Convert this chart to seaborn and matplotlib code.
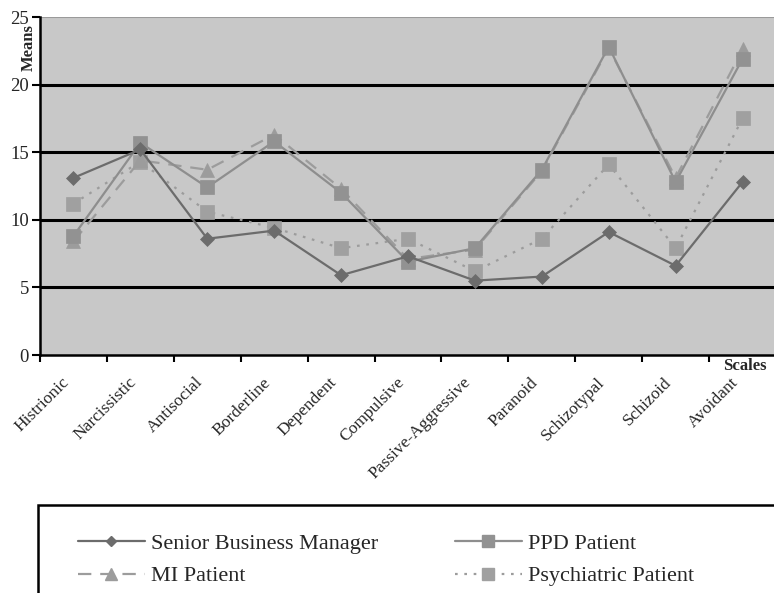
import numpy as np
import pandas as pd
import matplotlib
matplotlib.use("Agg")
import matplotlib.pyplot as plt
import matplotlib.transforms as mtransforms
from matplotlib.patches import Rectangle
from matplotlib.lines import Line2D
import seaborn as sns

categories = ["Histrionic", "Narcissistic", "Antisocial", "Borderline", "Dependent",
              "Compulsive", "Passive-Aggressive", "Paranoid", "Schizotypal",
              "Schizoid", "Avoidant"]
senior_business_manager = [13.1, 15.2, 8.6, 9.2, 5.9, 7.3, 5.5, 5.8, 9.1, 6.6, 12.8]
ppd_patient = [8.8, 15.7, 12.4, 15.8, 12.0, 6.9, 7.9, 13.7, 22.8, 12.8, 21.9]
mi_patient = [8.4, 14.4, 13.7, 16.3, 12.3, 7.1, 7.8, 13.6, 22.7, 13.1, 22.6]
psychiatric_patient = [11.2, 14.3, 10.6, 9.4, 7.9, 8.6, 6.2, 8.6, 14.1, 7.9, 17.5]
series_names = ["Senior Business Manager", "PPD Patient", "MI Patient", "Psychiatric Patient"]
y_ticks = [0, 5, 10, 15, 20, 25]

sns.set_theme(style="white")
plt.rcParams["font.family"] = ["Liberation Serif", "DejaVu Serif"]

W, H = 774, 593
fig = plt.figure(figsize=(W / 100, H / 100), dpi=100)
ax = fig.add_axes([40 / W, 1 - 355 / H, 736 / W, (355 - 17) / H])
ax.set_facecolor("#c8c8c8")

styles = {
    "Senior Business Manager": dict(color="#6c6c6c", marker="D", ms=7, ls="-", mfc="#6c6c6c", mec="#6c6c6c", lw=1.6),
    "PPD Patient": dict(color="#8e8e8e", marker="s", ms=10, ls="-", mfc="#929292", mec="#929292", lw=1.6),
    "MI Patient": dict(color="#9c9c9c", marker="^", ms=10, ls=(0, (6, 4)), mfc="#9c9c9c", mec="#9c9c9c", lw=1.6),
    "Psychiatric Patient": dict(color="#9c9c9c", marker="s", ms=10, ls=(0, (1.2, 3)), mfc="#a0a0a0", mec="#a0a0a0", lw=1.6),
}
values = {
    "Senior Business Manager": senior_business_manager,
    "PPD Patient": ppd_patient,
    "MI Patient": mi_patient,
    "Psychiatric Patient": psychiatric_patient,
}

# black horizontal gridlines
for yv in y_ticks[1:-1]:
    ax.axhline(yv, color="black", lw=2.2, zorder=1)
ax.axhline(25, color="#9a9a9a", lw=1.5, zorder=1)

draw_order = ["Psychiatric Patient", "MI Patient", "PPD Patient", "Senior Business Manager"]
for name in draw_order:
    st = styles[name]
    df = pd.DataFrame({"Scale": categories, "Mean": values[name]})
    sns.lineplot(data=df, x="Scale", y="Mean", ax=ax, sort=False,
                 color=st["color"], linewidth=st["lw"], linestyle=st["ls"],
                 marker=st["marker"], markersize=st["ms"],
                 markerfacecolor=st["mfc"], markeredgecolor=st["mec"],
                 markeredgewidth=0.5, zorder=3)

ax.set_xlim(-0.5, 10.5)
ax.set_ylim(0, 25)
ax.set_yticks(y_ticks)
ax.set_yticklabels([str(v) for v in y_ticks], fontsize=13.5)
ax.set_xticks(range(len(categories)))
ax.set_xticklabels(categories, rotation=45, ha="right", rotation_mode="anchor", fontsize=12.5)
ax.set_xticks(np.arange(-0.5, len(categories), 1.0), minor=True)
ax.tick_params(axis="x", which="major", length=0, pad=14)
ax.tick_params(axis="x", which="minor", length=5, width=1.5, color="black", direction="out", bottom=True)
ax.tick_params(axis="y", which="major", length=6, width=1.5, color="black", direction="out", left=True, pad=2)
offset = mtransforms.ScaledTranslation(-12 / 100, 0, fig.dpi_scale_trans)
for lbl in ax.get_xticklabels():
    lbl.set_transform(lbl.get_transform() + offset)
ax.set_xlabel("")
ax.set_ylabel("")
for s in ["top", "right"]:
    ax.spines[s].set_visible(False)
for s in ["left", "bottom"]:
    ax.spines[s].set_color("black")
    ax.spines[s].set_linewidth(1.8)

fig.text(29 / W, 1 - 48 / H, "Means", rotation=90, ha="center", va="center",
         fontsize=12, fontweight="bold")
fig.text(745 / W, 1 - 366 / H, "Scales", ha="center", va="center",
         fontsize=12, fontweight="bold")

# legend box
fig.patches.append(Rectangle((38 / W, -0.1), 1.0, 1 - 505 / H + 0.1,
                             transform=fig.transFigure, fill=False,
                             edgecolor="black", lw=1.8))
handles = {}
for name in series_names:
    st = styles[name]
    handles[name] = Line2D([], [], color=st["color"], lw=st["lw"], ls=st["ls"],
                           marker=st["marker"], ms=st["ms"] * 0.8,
                           mfc=st["mfc"], mec=st["mec"])
legend_order = ["Senior Business Manager", "MI Patient", "PPD Patient", "Psychiatric Patient"]
fig.legend([handles[n] for n in legend_order], legend_order, ncol=2, frameon=False,
           loc="upper left", bbox_to_anchor=(78 / W, 1 - 533 / H),
           borderpad=0, borderaxespad=0, handlelength=3.0, handletextpad=0.3,
           columnspacing=3.45, labelspacing=0.55, fontsize=16)

fig.savefig("out.png", dpi=100)
